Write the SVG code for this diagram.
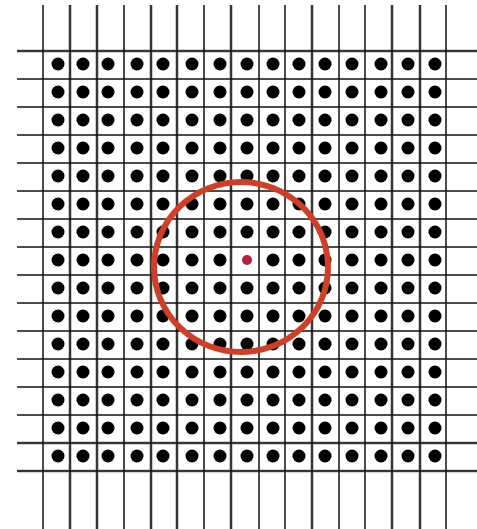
<svg xmlns="http://www.w3.org/2000/svg" width="477" height="529" viewBox="0 0 477 529">
<style>
.halo{stroke:#a8a8a8;stroke-width:3.2;fill:none}
.ln{stroke:#111;stroke-width:1.5;fill:none}
.dot{fill:#000}
</style>
<rect width="477" height="529" fill="#fff"/>
<g id="grid">
<g id="halos">
<line class="halo" x1="70" y1="5" x2="70" y2="529"/>
<line class="halo" x1="97" y1="5" x2="97" y2="529"/>
<line class="halo" x1="151" y1="5" x2="151" y2="529"/>
<line class="halo" x1="177" y1="5" x2="177" y2="529"/>
<line class="halo" x1="231" y1="5" x2="231" y2="529"/>
<line class="halo" x1="312" y1="5" x2="312" y2="529"/>
<line class="halo" x1="392" y1="5" x2="392" y2="529"/>
<line class="halo" x1="420" y1="5" x2="420" y2="529"/>
<line class="halo" x1="17" y1="51" x2="477" y2="51"/>
<line class="halo" x1="17" y1="443" x2="477" y2="443"/>
<line class="halo" x1="17" y1="471" x2="477" y2="471"/>
</g>
<g id="verticals">
<line class="ln" x1="43" y1="5" x2="43" y2="529"/>
<line class="ln" x1="70" y1="5" x2="70" y2="529"/>
<line class="ln" x1="97" y1="5" x2="97" y2="529"/>
<line class="ln" x1="124" y1="5" x2="124" y2="529"/>
<line class="ln" x1="151" y1="5" x2="151" y2="529"/>
<line class="ln" x1="177" y1="5" x2="177" y2="529"/>
<line class="ln" x1="204" y1="5" x2="204" y2="529"/>
<line class="ln" x1="231" y1="5" x2="231" y2="529"/>
<line class="ln" x1="259" y1="5" x2="259" y2="529"/>
<line class="ln" x1="285" y1="5" x2="285" y2="529"/>
<line class="ln" x1="312" y1="5" x2="312" y2="529"/>
<line class="ln" x1="339" y1="5" x2="339" y2="529"/>
<line class="ln" x1="365" y1="5" x2="365" y2="529"/>
<line class="ln" x1="392" y1="5" x2="392" y2="529"/>
<line class="ln" x1="420" y1="5" x2="420" y2="529"/>
<line class="ln" x1="446" y1="5" x2="446" y2="529"/>
</g>
<g id="horizontals">
<line class="ln" x1="17" y1="51" x2="477" y2="51"/>
<line class="ln" x1="17" y1="79" x2="477" y2="79"/>
<line class="ln" x1="17" y1="107" x2="477" y2="107"/>
<line class="ln" x1="17" y1="135" x2="477" y2="135"/>
<line class="ln" x1="17" y1="163" x2="477" y2="163"/>
<line class="ln" x1="17" y1="191" x2="477" y2="191"/>
<line class="ln" x1="17" y1="219" x2="477" y2="219"/>
<line class="ln" x1="17" y1="247" x2="477" y2="247"/>
<line class="ln" x1="17" y1="275" x2="477" y2="275"/>
<line class="ln" x1="17" y1="303" x2="477" y2="303"/>
<line class="ln" x1="17" y1="331" x2="477" y2="331"/>
<line class="ln" x1="17" y1="359" x2="477" y2="359"/>
<line class="ln" x1="17" y1="387" x2="477" y2="387"/>
<line class="ln" x1="17" y1="415" x2="477" y2="415"/>
<line class="ln" x1="17" y1="443" x2="477" y2="443"/>
<line class="ln" x1="17" y1="471" x2="477" y2="471"/>
</g>
</g>
<defs>
<g id="row">
<circle class="dot" cx="58" cy="0" r="6.5"/>
<circle class="dot" cx="83" cy="0" r="6.5"/>
<circle class="dot" cx="108" cy="0" r="6.5"/>
<circle class="dot" cx="137" cy="0" r="6.5"/>
<circle class="dot" cx="163" cy="0" r="6.5"/>
<circle class="dot" cx="192" cy="0" r="6.5"/>
<circle class="dot" cx="220" cy="0" r="6.5"/>
<circle class="dot" cx="247" cy="0" r="6.5"/>
<circle class="dot" cx="273" cy="0" r="6.5"/>
<circle class="dot" cx="299" cy="0" r="6.5"/>
<circle class="dot" cx="325" cy="0" r="6.5"/>
<circle class="dot" cx="352" cy="0" r="6.5"/>
<circle class="dot" cx="381" cy="0" r="6.5"/>
<circle class="dot" cx="408" cy="0" r="6.5"/>
<circle class="dot" cx="435" cy="0" r="6.5"/>
</g>
</defs>
<g id="dots">
<use href="#row" y="64"/>
<use href="#row" y="92"/>
<use href="#row" y="120"/>
<use href="#row" y="148"/>
<use href="#row" y="176"/>
<use href="#row" y="204"/>
<use href="#row" y="232"/>
<use href="#row" y="288"/>
<use href="#row" y="316"/>
<use href="#row" y="344"/>
<use href="#row" y="372"/>
<use href="#row" y="400"/>
<use href="#row" y="428"/>
<use href="#row" y="456"/>
<g transform="translate(0,260)">
<circle class="dot" cx="58" cy="0" r="6.5"/>
<circle class="dot" cx="83" cy="0" r="6.5"/>
<circle class="dot" cx="108" cy="0" r="6.5"/>
<circle class="dot" cx="137" cy="0" r="6.5"/>
<circle class="dot" cx="163" cy="0" r="6.5"/>
<circle class="dot" cx="192" cy="0" r="6.5"/>
<circle class="dot" cx="220" cy="0" r="6.5"/>
<circle class="dot" cx="273" cy="0" r="6.5"/>
<circle class="dot" cx="299" cy="0" r="6.5"/>
<circle class="dot" cx="325" cy="0" r="6.5"/>
<circle class="dot" cx="352" cy="0" r="6.5"/>
<circle class="dot" cx="381" cy="0" r="6.5"/>
<circle class="dot" cx="408" cy="0" r="6.5"/>
<circle class="dot" cx="435" cy="0" r="6.5"/>
</g>
</g>
<g id="center">
<circle cx="247" cy="260" r="5" fill="#b5203e"/>
</g>
<g id="radius-circle">
<ellipse cx="241" cy="267" rx="87" ry="85" fill="none" stroke="#cf3f28" stroke-width="6"/>
</g>
</svg>
